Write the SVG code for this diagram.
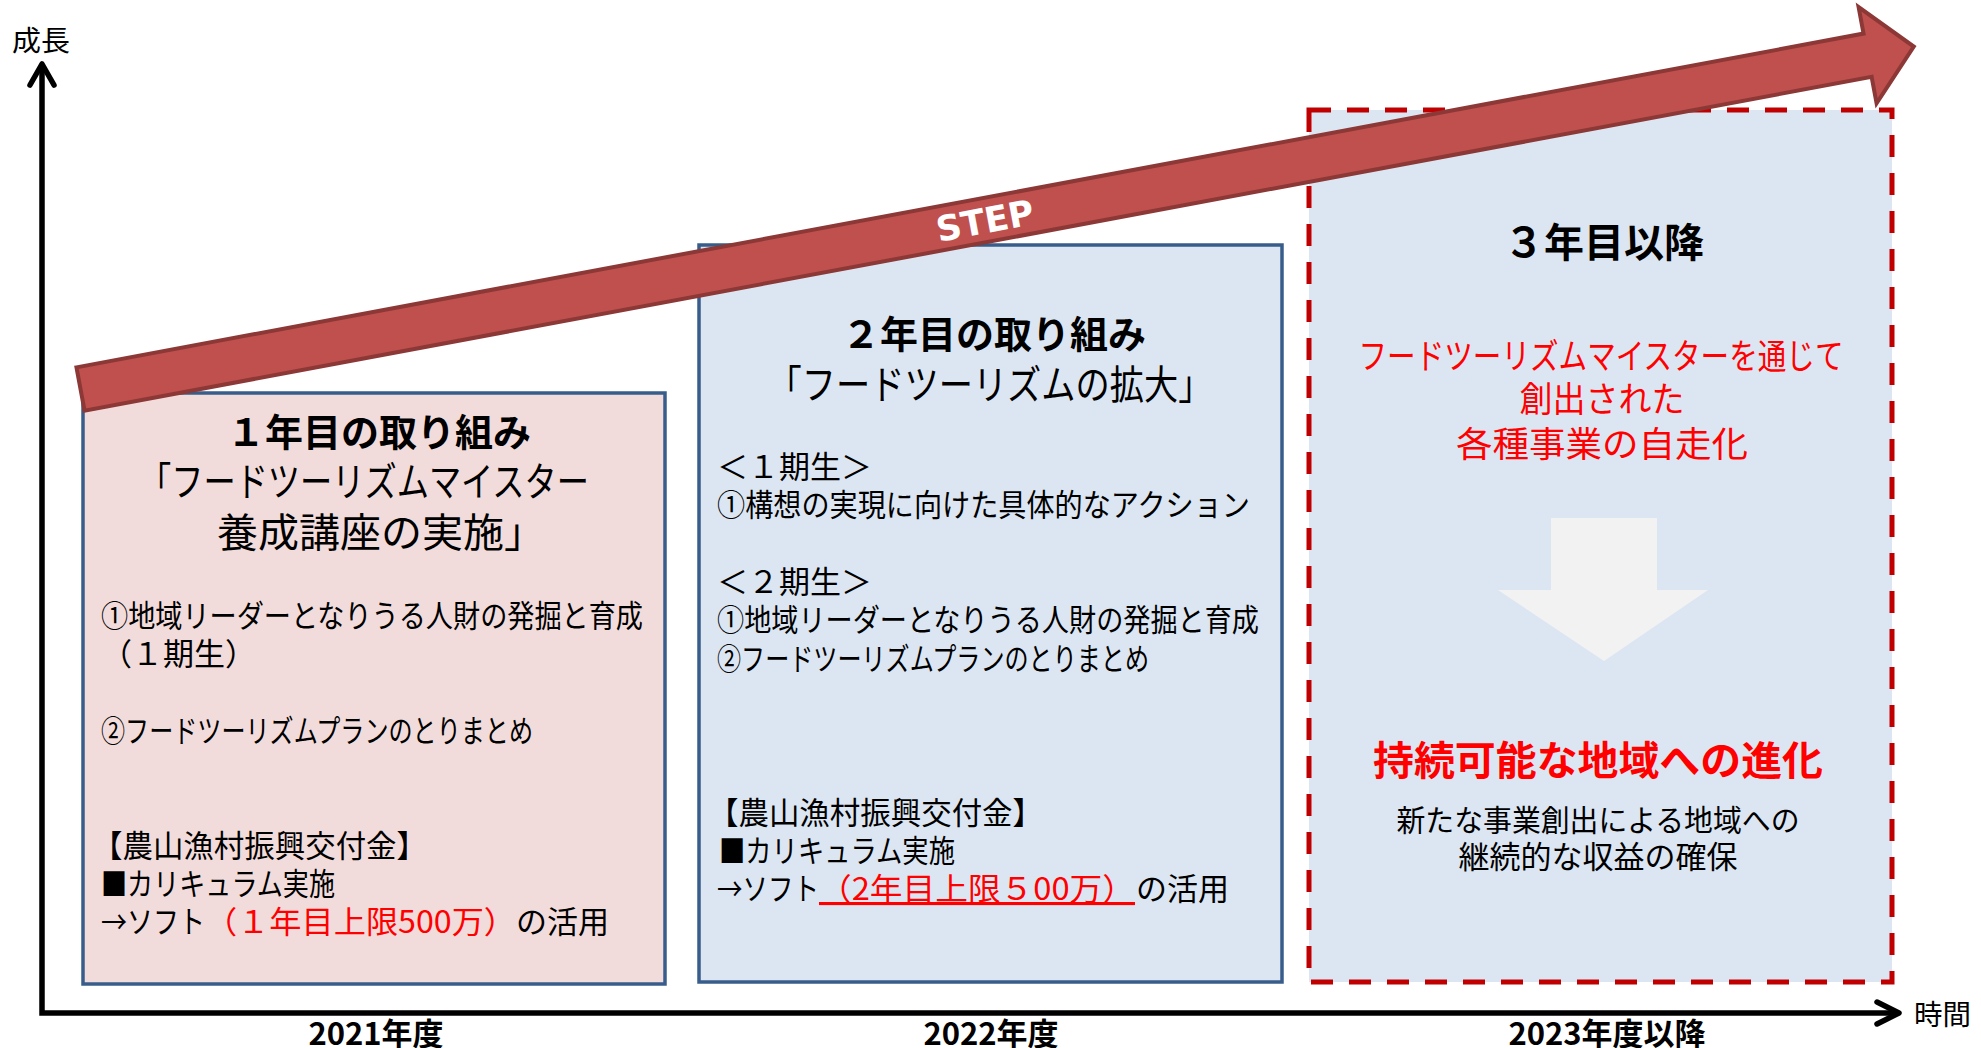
<svg xmlns="http://www.w3.org/2000/svg" width="1981" height="1048" viewBox="0 0 1981 1048">
<style>
text{font-family:"Noto Sans CJK JP","Noto Sans CJK SC",sans-serif;fill:#000}
.b{font-weight:700}
.t{font-size:38px;font-weight:700;text-anchor:middle}
.s{font-size:40px;text-anchor:middle}
.body{font-size:31px}
.red{fill:#FF0000}
.yr{font-size:31px;font-weight:700;text-anchor:middle}
.box{stroke:#385D8A;stroke-width:3.5}
.ax{fill:none;stroke:#000;stroke-width:5.5;stroke-linecap:round;stroke-linejoin:round}
</style>
<rect width="1981" height="1048" fill="#FFFFFF"/>

<g id="axes">
<path class="ax" d="M42,66 L42,1013 L1898,1013" style="stroke-linecap:butt;stroke-linejoin:miter"/>
<path class="ax" d="M30,85 L42,64 L54,85"/>
<path class="ax" d="M1877,1002 L1899,1013 L1877,1024"/>
<text x="12" y="51" font-size="28" textLength="58" lengthAdjust="spacingAndGlyphs">成長</text>
<text x="1914" y="1025" font-size="28" textLength="57" lengthAdjust="spacingAndGlyphs">時間</text>
<text class="yr" x="376" y="1045">2021年度</text>
<text class="yr" x="991" y="1045">2022年度</text>
<text class="yr" x="1607" y="1045">2023年度以降</text>
</g>

<g id="box1">
<rect class="box" x="83" y="393" width="582" height="591" fill="#F2DCDB"/>
<text class="t" x="379" y="446">１年目の取り組み</text>
<text class="s" x="364" y="496" textLength="450" lengthAdjust="spacingAndGlyphs">「フードツーリズムマイスター</text>
<text class="s" x="381" y="547" textLength="328" lengthAdjust="spacingAndGlyphs">養成講座の実施」</text>
<text class="body" x="101" y="627" textLength="542" lengthAdjust="spacingAndGlyphs">①地域リーダーとなりうる人財の発掘と育成</text>
<text class="body" x="101" y="665">（１期生）</text>
<text class="body" x="101" y="742" textLength="432" lengthAdjust="spacingAndGlyphs">②フードツーリズムプランのとりまとめ</text>
<text class="body" x="92" y="857" textLength="335" lengthAdjust="spacingAndGlyphs">【農山漁村振興交付金】</text>
<text class="body" x="101" y="895" textLength="234" lengthAdjust="spacingAndGlyphs">■カリキュラム実施</text>
<text class="body" x="101" y="933" textLength="104" lengthAdjust="spacingAndGlyphs">→ソフト</text>
<text class="body red" x="205" y="933" textLength="311" lengthAdjust="spacingAndGlyphs">（１年目上限500万）</text>
<text class="body" x="516" y="933">の活用</text>
</g>

<g id="box2">
<rect class="box" x="699" y="245" width="583" height="737" fill="#DCE6F2"/>
<text class="t" x="994" y="348">２年目の取り組み</text>
<text class="s" x="990" y="399" textLength="445" lengthAdjust="spacingAndGlyphs">「フードツーリズムの拡大」</text>
<text class="body" x="717" y="478">＜１期生＞</text>
<text class="body" x="717" y="516" textLength="533" lengthAdjust="spacingAndGlyphs">①構想の実現に向けた具体的なアクション</text>
<text class="body" x="717" y="593">＜２期生＞</text>
<text class="body" x="717" y="631" textLength="542" lengthAdjust="spacingAndGlyphs">①地域リーダーとなりうる人財の発掘と育成</text>
<text class="body" x="717" y="670" textLength="432" lengthAdjust="spacingAndGlyphs">②フードツーリズムプランのとりまとめ</text>
<text class="body" x="708" y="824" textLength="335" lengthAdjust="spacingAndGlyphs">【農山漁村振興交付金】</text>
<text class="body" x="719" y="862" textLength="236" lengthAdjust="spacingAndGlyphs">■カリキュラム実施</text>
<text class="body" x="717" y="900" textLength="102" lengthAdjust="spacingAndGlyphs">→ソフト</text>
<text class="body red" x="819" y="900" textLength="316" lengthAdjust="spacingAndGlyphs" text-decoration="underline">（2年目上限５00万）</text>
<text class="body" x="1136" y="900">の活用</text>
</g>

<g id="box3">
<rect x="1309" y="110" width="583" height="872" fill="#DCE6F2" stroke="#C00000" stroke-width="5" stroke-dasharray="22 16"/>
<text class="b" x="1604" y="257" font-size="40" text-anchor="middle">３年目以降</text>
<text class="red" x="1601" y="369" font-size="35" text-anchor="middle" textLength="485" lengthAdjust="spacingAndGlyphs">フードツーリズムマイスターを通じて</text>
<text class="red" x="1602" y="412" font-size="35" text-anchor="middle" textLength="165" lengthAdjust="spacingAndGlyphs">創出された</text>
<text class="red" x="1602" y="457" font-size="35" text-anchor="middle" textLength="292" lengthAdjust="spacingAndGlyphs">各種事業の自走化</text>
<text class="red b" x="1598" y="775" font-size="40" text-anchor="middle" textLength="450" lengthAdjust="spacingAndGlyphs">持続可能な地域への進化</text>
<text x="1598" y="831" font-size="30" text-anchor="middle" textLength="403" lengthAdjust="spacingAndGlyphs">新たな事業創出による地域への</text>
<text x="1598" y="868" font-size="31" text-anchor="middle">継続的な収益の確保</text>
</g>

<g id="connectors">
<polygon points="1551,518 1657,518 1657,590 1708,590 1604,661 1498,590 1551,590" fill="#F2F2F2"/>
</g>

<g id="step-arrow" transform="translate(80.5,389) rotate(-10.58)">
<polygon points="0,-22 1818,-22 1818,-49 1865,0 1818,49 1818,22 0,22" fill="#C0504D" stroke="#8C3836" stroke-width="4"/>
<text x="920" y="13" font-weight="700" font-size="35" text-anchor="middle" style="font-family:'DejaVu Sans',sans-serif;fill:#FFFFFF">STEP</text>
</g>
</svg>
